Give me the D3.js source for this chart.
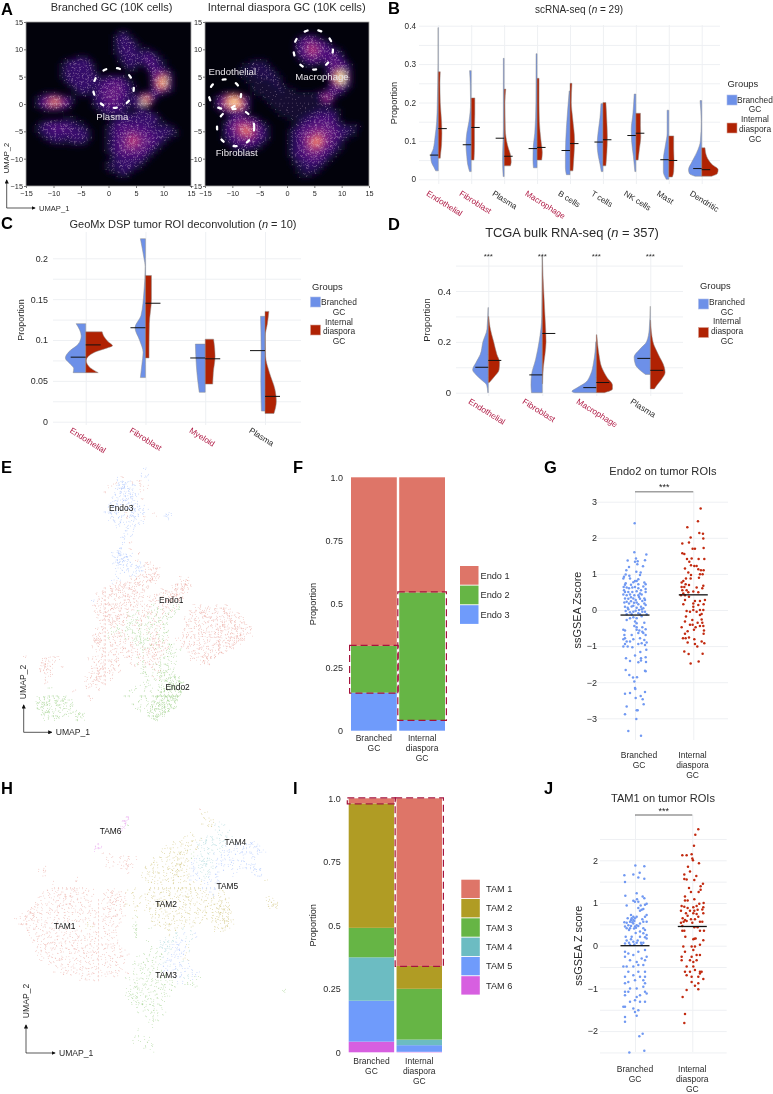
<!DOCTYPE html>
<html>
<head>
<meta charset="utf-8">
<script src="https://cdn.jsdelivr.net/npm/d3@7"></script>
<style>
body { margin: 0; background: #fff; }
svg { will-change: transform; }
text { font-family: "Liberation Sans", Helvetica, Arial, sans-serif; fill: #2a2a2a; }
</style>
</head>
<body>
<div id="fig"></div>
<script>
const GROUP_LABELS = [["Branched", "GC"], ["Internal", "diaspora", "GC"]];
const HILITE = "#b01c46";

// A: density rasters over UMAP space, 0.75 units per cell
const heatBranched = [
"0000000000000000000000000000000000000000",
"0000000000000000000000000000000000000000",
"0000000000000000000000121000000000000000",
"0000000000000000000001232100000000000000",
"0000000000000000000001333210000000000000",
"0000000000000000000001233321000000000000",
"0000000000000000000001233321110000000000",
"0000000000000000000001233332232100000000",
"0000000000001110000000123333343210000000",
"0000000001233332000000123323344321000000",
"0000000012333333100000012321134321000000",
"0000000012333333100000001210024432100000",
"0000000012333333210000000000003554310000",
"0000000012333333321233321000003678410000",
"0000000001333333323444432100002689510000",
"0000000000123333234445543210002688410000",
"0000000000012332234455543200002564310000",
"0000111100001221234555543211343421000000",
"0012456654210000234555443234785100000000",
"0013578875310000233455432235973000000000",
"0012456544200000123444432224310000000000",
"0000111110000000012333321002210000000000",
"0000000000000000001222222233333100000000",
"0000000001110000000011233333333310000000",
"0001233333221100000012333333333211000000",
"0012344444332210000123444444433222210000",
"0012334444433321000123445554443333321000",
"0001233333343331000123455665544333221000",
"0000123332233321000123456776554432100000",
"0000001111122210000123456776554321000000",
"0000000000000000000123456665543210000000",
"0000000000000000000123455555432100000000",
"0000000000000000000012344444321000000000",
"0000000000000000000012333333210000000000",
"0000000000000000000122333322100000000000",
"0000000000000000000122233321000000000000",
"0000000000000000000011232100000000000000",
"0000000000000000000000111000000000000000",
"0000000000000000000000000000000000000000",
"0000000000000000000000000000000000000000"];
const heatInternal = [
"0000000000000000000000000000000000000000",
"0000000000000000000000000000000000000000",
"0000000000000000000000000000000000000000",
"0000000000000000000000012321000000000000",
"0000000000000000000000234543210000000000",
"0000000000000000000000345665432000000000",
"0000000000000000000000345776543110000000",
"0000000000000000000000245675544321000000",
"0000000000000000000000134555444532000000",
"0000000000011110000000012343235443100000",
"0000000001122221000000001211024554310000",
"0000000011222222100000000000013565410000",
"0000000011112222210000000000013689510000",
"0000000001111222211000000000002799610000",
"0000000000111111221000000000002689510000",
"0000000000011111121100000000002564310000",
"0000000000011111112111000000013543100000",
"0000122210001111111111111112455321000000",
"0013578875200011111111111111376200000000",
"0014689986300001111111111111243000000000",
"0013678885200000111111111111111000000000",
"0001345565200000011111111112222110000000",
"0000012331000000001111111223333310000000",
"0000013455432000000011122334444310000000",
"0000124566654210000000123344444321000000",
"0000135677765321000001234455555432222100",
"0000134678875421000012345566655433321000",
"0000134567775431000012345667665543211000",
"0000123455654321000012346778765432100000",
"0000012344443210000012345788765321000000",
"0000001222322100000012345677654321000000",
"0000000111100000000012345666543210000000",
"0000000000000000000012344555432100000000",
"0000000000000000000001233444321000000000",
"0000000000000000000001223333210000000000",
"0000000000000000000000122322100000000000",
"0000000000000000000000112221000000000000",
"0000000000000000000000011100000000000000",
"0000000000000000000000000000000000000000",
"0000000000000000000000000000000000000000"];
const umapTicks = [-15, -10, -5, 0, 5, 10, 15];
// ellipses: UMAP extents [x0, x1, y0, y1]
const circlesBranched = [[-2.8, 4.6, -0.7, 6.6]];
const circlesInternal = [[1.2, 8.4, 6.3, 13.6], [-14.3, -8.4, -0.9, 4.5], [-12.8, -6, -7.7, -0.9]];
const labelsBranched = [["Plasma", 0.7, -2.2]];
const labelsInternal = [["Endothelial", -10, 6], ["Macrophage", 6.4, 5], ["Fibroblast", -9.2, -8.8]];

// B: scRNA-seq half violins, [value, density]
const scCats = ["Endothelial", "Fibroblast", "Plasma", "Macrophage", "B cells", "T cells", "NK cells", "Mast", "Dendritic"];
const scBranched = [
 [[.395,.02],[.3,.02],[.2,.06],[.15,.1],[.11,.2],[.08,.3],[.06,.46],[.045,.42],[.03,.25],[.022,.16]],
 [[.283,.1],[.25,.06],[.2,.04],[.15,.14],[.12,.27],[.09,.32],[.06,.27],[.04,.22],[.02,.1]],
 [[.315,.05],[.2,.05],[.13,.05],[.1,.07],[.05,.1],[.007,.06]],
 [[.327,.06],[.2,.07],[.12,.14],[.08,.24],[.05,.25],[.03,.22]],
 [[.23,.05],[.17,.16],[.1,.26],[.06,.28],[.03,.28],[.012,.22]],
 [[.197,.12],[.16,.18],[.12,.3],[.09,.35],[.06,.28],[.04,.18],[.02,.1]],
 [[.222,.1],[.17,.18],[.13,.28],[.1,.26],[.06,.15],[.02,.06]],
 [[.18,.1],[.12,.1],[.09,.2],[.05,.33],[.02,.33],[0,.15]],
 [[.205,.1],[.15,.03],[.1,.08],[.07,.3],[.045,.6],[.025,.8],[.015,.75],[.008,.4]]];
const scInternal = [
 [[.28,.12],[.25,.1],[.2,.12],[.15,.2],[.12,.22],[.09,.2],[.07,.15],[.055,.12]],
 [[.212,.22],[.17,.22],[.13,.2],[.09,.2],[.05,.17]],
 [[.235,.1],[.2,.05],[.13,.07],[.09,.2],[.06,.4],[.045,.43],[.035,.38]],
 [[.263,.12],[.2,.12],[.15,.14],[.1,.24],[.07,.32],[.05,.28]],
 [[.25,.12],[.2,.08],[.16,.16],[.1,.28],[.06,.24],[.022,.18]],
 [[.2,.18],[.15,.24],[.11,.27],[.07,.24],[.035,.18]],
 [[.172,.28],[.14,.28],[.11,.3],[.08,.22],[.05,.14]],
 [[.113,.3],[.08,.3],[.05,.32],[.02,.3],[.006,.22]],
 [[.082,.2],[.06,.3],[.04,.6],[.025,1],[.015,.95],[.008,.6]]];
const scMedBranched = [.063,.09,.107,.08,.075,.097,.114,.051,.028];
const scMedInternal = [.132,.135,.06,.083,.093,.103,.12,.049,.025];

// C: GeoMx deconvolution
const dspCats = ["Endothelial", "Fibroblast", "Myeloid", "Plasma"];
const dspBranched = [
 [[.12,.32],[.105,.15],[.095,.25],[.085,.58],[.078,.68],[.07,.5],[.065,.4],[.06,.42]],
 [[.224,.17],[.2,.05],[.19,.01],[.16,.05],[.13,.15],[.115,.35],[.1,.2],[.085,.08],[.07,.12],[.054,.17]],
 [[.095,.33],[.07,.3],[.05,.25],[.036,.2]],
 [[.129,.15],[.09,.13],[.05,.14],[.013,.12]]];
const dspInternal = [
 [[.11,.55],[.105,.6],[.098,.75],[.093,.9],[.09,.7],[.085,.3],[.075,.02],[.068,.1],[.06,.42]],
 [[.179,.2],[.15,.2],[.12,.13],[.09,.12],[.078,.12]],
 [[.101,.28],[.08,.33],[.06,.27],[.046,.25]],
 [[.135,.13],[.12,.08],[.105,.01],[.08,.02],[.06,.15],[.04,.33],[.025,.38],[.01,.3]]];
const dspMedBranched = [.079,.115,.078,.087];
const dspMedInternal = [.094,.145,.077,.031];

// D: TCGA bulk
const tcgaCats = ["Endothelial", "Fibroblast", "Macrophage", "Plasma"];
const tcgaBranched = [
 [[.335,.01],[.25,.05],[.2,.2],[.15,.3],[.12,.45],[.09,.58],[.07,.45],[.05,.25],[.03,.06],[0,.02]],
 [[.54,0],[.3,.02],[.2,.12],[.13,.25],[.07,.4],[.03,.42],[0,.4]],
 [[.2,.02],[.12,.1],[.07,.22],[.04,.4],[.02,.7],[.005,.9],[0,.8]],
 [[.34,0],[.25,.04],[.2,.14],[.17,.4],[.14,.6],[.11,.55],[.09,.4],[.072,.18]]];
const tcgaInternal = [
 [[.3,.02],[.26,.06],[.2,.2],[.15,.32],[.12,.42],[.09,.4],[.06,.2],[.04,.04]],
 [[.54,0],[.45,.03],[.3,.1],[.2,.14],[.15,.1],[.1,.04],[.035,.01]],
 [[.228,.02],[.15,.1],[.1,.2],[.06,.4],[.03,.6],[.015,.6],[0,.3]],
 [[.285,.01],[.2,.1],[.15,.3],[.1,.52],[.08,.55],[.05,.4],[.03,.25],[.015,.15]]];
const tcgaMedBranched = [.1,.07,.02,.135];
const tcgaMedInternal = [.127,.233,.04,.088];

// E: endothelial UMAP, stippled cell raster. r/g/b low and R/G/B high density, m mixed
const endoRows = [
"...............................b",
"..............................bb",
"........................br.....b",
".......................rbBbbrrr",
"......................r.bBBbb.rr",
".....................r..bBbBb.r",
".......................bbbBBbb",
".......................bbbBbb.r",
"......................bbBbbbbb",
"......................bBbbbbBbb",
".....................bBbbbbbBbbb",
"......................bbbbrbBbb..r..Bb",
"......................bbbbrbbb.r.....b",
".......................bbbbbbbb",
"........................b.bbb",
"..........................b.b",
"..........................bb",
".........................bb",
".........................b.r",
".........................b",
"........................bb.r",
".......................bBBbb.r",
".......................bBBBb",
".......................bBBbb.rbrr",
"........................bbbbbBbrrrr",
"........................bbbbbbbrrrr",
"........................b..bbrrrrRr",
"........................b..rrrrrRRr.....rr",
".......................brrrrrRrrrr.....rrRr",
".....................rrrRrRRrrrrr.....rrRRr",
"....................rrrRRrrrRrrr...rrrrRRr",
"...................rrrRrrrRrrrr..rrrrRRRr",
"...................rrrrrrrrRrrr.rrrrrRRRr",
"..................brrRrrrrrrrrr.rrrrrrrr",
"..................rrrrrRrrrrrrrrrgmrrrmg...rrrr..rrr",
"..................rrrRrrrrrrrgrrrggmrmmg..rrrRrrrrrRr",
"...................rrRrrRrrmgrrmrgrrmgg...rrrrRrrrrRRrr",
"...................rrrRrRrrgmmrrgmmggg...rrrrrrRrrrrrrrr",
"....................rrRRrrmggmrgrmgmg....rrrrrrrrrRrRrrrr",
"....................rrrrgrggrmggmgrmg....rrrrrrrrrRRrRrrrr",
"...................rrrmgmrgggmgmgrmgg....rrrrrrrrRrrrrRrrr",
"..................rRrrgrrmrggggmmrmgg...rrrrrrrrrrrrRrRRrr",
"..................RRrrmrrrmrmgGgmRmgr..rrrrrrrrrrRrrRRRR",
"..................rRrrrrrrrrgmGgmmRmrg..rrrrrrrrrRrrRRr",
"..................rrrrrrrrrrrgmgmRRmrgg.rrrrrrrrrRrrRr",
"...................rrrrrrrrrrrmrRRmrmgg.g.rrrrrrrRrr",
"....................rrrrrr.rrrmrrRrrggg...rrrrrrrrr",
".r...rrrrr.......rrrrrrrr.rr.mrrrrrgggg...rrrrRRr",
".....rRrr.........rrrrrrr..r.mgrrmrgggg......rRr",
".....rRr..r.......rrRrrrr...r.gmrrgggg",
".....RRr..........rRrrrrr.....gg.mrgGgg",
"......rr.........rrRrrrr......gg.mgGGgg",
"......r.........rrrRrrr........g.gmgGGGg",
"......r.........rrrrrr.........gg..ggGGGG",
".......g........rr.r.........g.gg.ggGGGG",
".............r.....r.......gg..gg.gGGGGGG",
".......ggg.......r........gg..gg.gGGGGGG",
"....ggGggggGg....r............gg..GGGGGG",
"....GGGggGGgg...............gg..gGGGGGG",
"....gGgggGgggg................gggGGGGGG",
"....ggGGgggggg...............gg.GGGGGG",
".....gggGgggg.GG................GGGG",
"......gggg....Gg.................GG"];
const endoLabels = [["Endo3", 25.3, 10], ["Endo1", 37.8, 32.8], ["Endo2", 39.4, 54.6]];

// F
const endoNames = ["Endo 1", "Endo 2", "Endo 3"];
const endoBranched = [.665, .185, .15];
const endoInternal = [.454, .504, .042];

// G, strip points are [jitter, ssGSEA]
const endoTicks = [-3, -2, -1, 0, 1, 2, 3];
const endoStripBranched = [[-1,2.4],[-2,1.6],[34,1.54],[-22,1.37],[3,1.43],[0,1.34],[8,1.35],[30,1.38],[7,1.27],[24,1.21],[-18,1.19],[-26,1.1],[4,1.06],[17,1.04],[15,.97],[-28,.98],[-17,.95],[-33,.92],[-35,.87],[-15,.87],[10,.85],[0,.8],[5,.8],[-28,.74],[-5,.77],[10,.71],[28,.76],[32,.71],[-34,.64],[-25,.62],[-18,.6],[0,.64],[10,.6],[25,.65],[32,.58],[-30,.5],[-20,.5],[-8,.5],[5,.52],[15,.46],[32,.5],[-35,.43],[-25,.41],[-15,.43],[-2,.41],[10,.41],[20,.43],[-30,.32],[-20,.31],[-5,.32],[2,.28],[15,.31],[28,.32],[-32,.21],[-25,.23],[-18,.18],[5,.21],[10,.16],[28,.18],[32,.14],[-30,.09],[-22,.06],[-5,.12],[5,.06],[18,.09],[-28,-.03],[-15,-.06],[-5,-.05],[10,-.09],[22,-.05],[30,-.05],[-25,-.12],[35,-.12],[-12,.7],[-8,.62],[18,.55],[-12,.35],[12,.36],[22,.25],[-12,.24],[-10,.1],[12,0],[-20,.02],[20,.02],[2,-.02],[-30,.7],[-33,.55],[-3,.2],[25,.05],[-10,-.12],[15,-.12],[30,.28],
[-25,-.28],[-15,-.23],[-5,-.2],[5,-.23],[20,-.17],[0,-.32],[5,-.37],[28,-.35],[-2,-.44],[5,-.48],[22,-.48],[-35,-.55],[-30,-.57],[5,-.55],[13,-.57],[22,-.6],[32,-.53],[-32,-.69],[-10,-.69],[10,-.64],[25,-.64],[32,-.69],[-35,-.81],[-30,-.78],[-5,-.81],[15,-.78],[28,-.83],[-25,-.87],[-30,-.94],[-15,-.87],[10,-.94],[20,-.92],[35,-.9],[-35,-1.01],[-22,-1.01],[-8,-1.03],[30,-.97],[34,-1.1],[0,-1.26],[16,-1.16],[18,-1.34],[32,-1.31],[-27,-1.34],[-15,-1.41],[10,-1.45],[18,-1.4],[33,-1.44],[-28,-1.66],[30,-1.68],[32,-1.7],[-17,-1.8],[-6,-1.87],[6,-1.86],[-2,-1.98],[0,-2.16],[1,-2.19],[-30,-2.32],[-15,-2.3],[30,-2.27],[2,-2.44],[17,-2.38],[23,-2.47],[26,-2.61],[-25,-2.67],[5,-2.78],[8,-2.78],[-30,-2.89],[4,-3.02],[-20,-3.35],[18,-3.48]];
const endoStripInternal = [[22,2.81],[14,2.46],[-18,2.29],[18,2.13],[29,2.11],[-8,2.01],[30,1.98],[-13,1.87],[-33,1.84],[-2,1.7],[5,1.7],[31,1.72],[-33,1.57],[-27,1.55],[-19,1.41],[-5,1.43],[16,1.41],[33,1.41],[-12,1.34],[-7,1.24],[3,1.22],[10,1.22],[-25,1.15],[15,1.13],[23,1.1],[31,1.1],[-15,1.04],[-7,.97],[20,.99],[28,.99],[17,.89],[-22,.87],[-8,.87],[-30,.8],[-35,.76],[-23,.71],[-13,.69],[-27,.64],[-35,.64],[10,.62],[30,.67],[27,.6],[-33,.55],[-20,.55],[0,.51],[-30,.46],[-15,.49],[-37,.41],[-25,.41],[15,.49],[-13,.37],[-25,.28],[5,.25],[20,.25],[35,.28],[-30,.16],[0,.18],[15,.14],[31,.16],[-20,-.03],[-10,-.05],[0,0],[10,-.05],[20,0],[0,.09],
[-22,-.18],[30,0],[20,-.14],[25,-.11],[-25,-.32],[-3,-.28],[25,-.26],[27,-.35],[-10,-.41],[-2,-.41],[13,-.35],[20,-.44],[30,-.44],[-35,-.48],[7,-.48],[2,-.55],[32,-.57],[-17,-.59],[-25,-.66],[31,-.66],[-31,-.78],[-23,-.78],[-13,-.76],[3,-.81],[-17,-.9],[25,-.87],[33,-.92],[5,-.94],[12,-1.01],[-27,-1.15],[-14,-1.22],[28,-1.21],[-8,-1.48],[16,-1.43]];
const endoStripMed = [-.14, .42];

// H: macrophage UMAP raster
const tamRows = [
"..............................................r",
"...............................................yy",
"............................P..................yyy",
"...........................PP..................yyy.t",
"...........................Pg...................yyttt",
"...........................p......................tt.t",
"............................................yy.....ttt",
"..........................................yy..ytTTtt.tt",
".....................p..................yyyyyyttTttttttb..bBb",
"....................pP................yyyyyyyytttttttb.bbbbBBb",
"....................p................yyyyyyygyttttttbbbbbBbbbBb",
"......................r.r............yyyyYyyg.ttttbbbbbbbb.bbb",
".......................rr.rrrrr....yyyyyyYyygbttTtbbbbbbbb.bb",
".......................r.rrrRr....yyyyyyyYyybbtTTtbbb.bbbbb",
".......r...............rr.rrRr..yyyyyyyyYYyybbtTttbbbbb.bbbBB",
"......rR....................r....yyyyyyyYYyybbtttttbb.bb...bBB",
".......r....................r...yyyyyyyyYyyybbbttbbb..b.....bB",
"...............r................yyyyyyyyyyyybbbttbbb",
".........r.....r.................yyyyyyyyyyyyyybbbbb...........y",
"..........rrrrrr.r................yyyyyyyyYyyyybbbb",
"........rrrrrrrRrrrr...rrrr.y.y..yyyyyyyyyyyyyyyybbyy",
".......rrrrRrrRrrrrr..rrRrrr.yy.yyyyyyyYyyyyyyyyybyyy",
"......rrrrrrrRrrrrr..rrrRRrrr.yy.yyyyyyyyyyYyyyyyyyyyy.........yyy",
".....rrrrrrrrrRrrrrr.rrrRRrry.yy.yyyYYyyyyyyYyyyyyyyYy.........yyY",
"....rrrrrrrRrrrrrrrr.rrrrrrry.yy.yyyYYyyyyyyyyyyyyyYYY.........yYY",
"...rRrrrrrrrrrrrrrrrrrrrRrrr..y..yyyyyyyyyyyyyyyyyyYYYy",
"..rrRRrrrrrrrrrrrrrrrrrrrRrr..g...yyyyyyyyyyyyyyyyyYYyy",
"rrrRRrrrrrrrrrrrrrrrrrrrrrr...y...yyyyyyyyyyyyyyyyyYYYy",
".rrRrrrrrrrrrrrrrryrrrrrrrr...g...yyyyyyyyyyyyy..yyyYYy",
"..rrrrrrrrrrrrrrr.yyrrrrrrr...G....yyyyyyyy.y.....yyYY",
"...rrrrrrrrrrrrrr..rrrrrrr....G...g...yyy.t.t.....yyy",
"....rrrrrrrrrrrrrrrrrrrrrr....G.......y.ttb.tb",
"....rrRrrrrrrrrrrrrrrrrrrr....g.......tttbbttb",
".....rrrrRrrrrrRrrrRrrrrrr.......g..ttTTbbbt",
".....rrrRrrrrrrrrRrrrrrrrrr.......g.tTTbbBby",
".....rrrrrrrrrrRrrrrRrrrrrrr......g.gtTtbBbt",
"......rrrrrrrrrrrrrrrrrrrrrrr...gg.gggtbbBby",
"......rrrrrRrrrrrrrrrrrrrrrr...g.ggggtbbbbyy",
"........rrrrrrrrrrrrrrrrrrrr..ggggggttbbbbtb",
"..........rrrrrrrrrrrrrrrrr...gggggggbbtbbbb",
"..........rrrrrrrrrrrrrrrrrr..gggggggbbbbtbbb",
"............rrrrrrrRrrrrrrr.r.gggggggggbbbbtbbb",
"................rrr.rr......ggggggggggggbbttbgg",
"..............................gggggggggg.bbggg",
".............................gGgggggggggg..ggg",
"............................gggggggggggg...........................G",
"............................gGGgggggggg",
"............................ggGgggggggg",
".............................gggGggggg",
"..............................gggggggg",
"...............................ggggggg",
".................................ggggg",
"..................................ggg",
"..................................gg",
"..................................g",
"...............................g",
"...............................g",
"..............................g.gg",
"..............................gg.gg",
"................................ggg",
"..................................g"];
const tamLabels = [["TAM6", 24.3, 5.7], ["TAM4", 55.5, 8.3], ["TAM5", 53.5, 19.3], ["TAM2", 38.2, 23.8], ["TAM1", 12.8, 29.3], ["TAM3", 38.2, 41.7]];

// I
const tamNames = ["TAM 1", "TAM 2", "TAM 3", "TAM 4", "TAM 5", "TAM 6"];
const tamBranched = [.02, .49, .116, .171, .161, .042];
const tamInternal = [.66, .09, .2, .022, .026, .002];

// J
const tamTicks = [-2, -1, 0, 1, 2];
const tamStripBranched = [[1,1.88],[28,1.86],[14,1.71],[-5,1.67],[-32,1.65],[10,1.6],[28,1.57],[-30,1.49],[-29,1.17],[5,1.23],[23,1.15],[28,1.11],[6,1.09],[-5,1.05],[0,1.03],[10,1.03],[-25,.94],[17,.94],[35,.98],[30,.96],[25,.86],[10,.88],[15,.82],[20,.84],[35,.72],[30,.68],[22,.62],[-22,.64],[-12,.72],[-5,.68],[5,.68],[-10,.64],[0,.64],[-5,.6],[-32,.55],[-25,.54],[-15,.56],[-20,.48],[-12,.46],[-5,.52],[5,.48],[15,.52],[25,.56],[35,.56],[-30,.45],[-25,.41],[-15,.41],[0,.45],[10,.46],[25,.41],[30,.37],[-18,.37],[15,.33],[2,.3],[25,.29],[35,.25],[-28,.21],[-10,.21],[15,.21],[30,.2],[35,.17],[-30,.05],[-18,.07],[-5,.09],[5,.07],[18,.07],[25,.07],[-3,.4],[3,.42],[-8,.55],[-2,.58],[-12,.6],[-25,.12],[-12,.15],[8,.12],[20,.02],[-15,.02],[-2,.03],
[-30,-.14],[-20,-.18],[-5,-.22],[10,-.14],[30,-.1],[35,-.26],[-30,-.26],[-15,-.34],[5,-.38],[20,-.3],[30,-.34],[-35,-.49],[-25,-.49],[-5,-.49],[10,-.45],[25,-.45],[-20,-.61],[10,-.61],[30,-.61],[-30,-.73],[-5,-.69],[15,-.73],[30,-.73],[0,-.81],[25,-.81],[30,-.88],[-30,-.88],[-20,-.85],[-15,-1],[-30,-1.08],[-20,-1.08],[5,-1],[25,-.96],[35,-1.12],[15,-1.16],[5,-1.2],[30,-1.08],[-30,-1.16],[-15,-1.31],[-30,-1.43],[0,-1.28],[15,-1.31],[30,-1.31],[-35,-1.43],[-5,-1.47],[0,-1.55],[10,-1.51],[5,-1.64],[-30,-1.67],[-30,-1.78],[13,-2.12],[23,-2.06],[-17,-2.5],[28,-2.46]];
const tamStripInternal = [[18,2.73],[9,2.6],[5,2.34],[-30,2.12],[-17,2.12],[-2,2.14],[0,2.04],[2,2],[20,1.93],[-13,1.85],[-7,1.74],[-24,1.67],[12,1.63],[-24,1.56],[-17,1.55],[6,1.54],[32,1.45],[25,1.39],[-10,1.35],[25,1.31],[-4,1.26],[19,1.26],[-22,1.15],[-14,1.06],[-22,1.06],[6,1.09],[21,.98],[34,1],[-32,.93],[-24,.91],[3,.9],[13,.93],[33,.9],[-14,.88],[16,.84],[30,.85],[-34,.82],[-7,.82],[6,.82],[3,.76],[13,.74],[-19,.76],[-14,.7],[33,.76],[18,.68],[-29,.64],[-22,.6],[-4,.62],[8,.62],[-17,.58],[-34,.54],[-26,.56],[23,.56],[30,.56],[0,.54],[-30,.46],[6,.43],[16,.43],[-30,.35],[-24,.35],[23,.35],[35,.35],[-21,.21],[6,.16],[10,.17],[33,.13],[3,.15],
[-27,-.02],[-2,-.02],[8,-.02],[23,.02],[-22,-.14],[3,-.1],[13,-.22],[23,-.22],[-32,-.26],[-2,-.26],[-32,-.34],[-7,-.34],[3,-.38],[13,-.34],[-17,-.49],[3,-.49],[-22,-.61],[-7,-.61],[8,-.57],[23,-.61],[28,-.61],[-17,-.69],[-2,-.73],[18,-.73],[23,-.65],[-2,-.85],[33,-.78],[8,-.94],[18,-.88],[-17,-1.04],[18,-1.02],[-29,-1.2],[-22,-1.6],[-24,-1.81]];
const tamStripMed = [0, .45];

// colours
const BLUE = "#6d90e8", RED = "#b02203";
const GRID = "#eef0f3";
const ENDO_COLORS = ["#de7568", "#66b545", "#6f9bfb"];
const TAM_COLORS = ["#de7568", "#b09c24", "#66b545", "#6cbcc2", "#6f9bfb", "#d75fe0"];
// fixed stipple layout for a raster cell, allowed to spill a bit over the cell edge
const STIPPLE = [[.21,.33],[.74,.62],[.41,.91],[.88,.12],[.07,.71],[.56,.18],[.32,.52],[.97,.86],[.63,.41],[-.08,.04],[.79,.29],[.46,.68],[1.1,.5],[.15,1.08],[.52,-.1],[.27,.03],[.93,.44],[.66,.97],[-.12,.46],[.38,.24],[.84,.78],[.12,.89],[.59,.55],[1.05,.22],[.29,.77],[.7,.09],[.01,.26],[.49,.4],[.9,1.07],[.35,1.12],[.76,.49],[.17,.58],[1.13,.95],[.55,.82],[.02,.93],[.62,.27],[.24,.14]];
// magma position for a raster digit
const HEAT_T = [.02, .09, .14, .19, .24, .3, .37, .5, .76, .98];

const svg = d3.select("#fig").append("svg")
	.attr("width", 773).attr("height", 1094)
	.style("display", "block");

svg.append("defs").append("filter")
	.attr("id", "soft")
	.attr("x", "-10%").attr("y", "-10%").attr("width", "120%").attr("height", "120%")
	.append("feGaussianBlur").attr("stdDeviation", 3);

function addText(g, str, x, y, size, opts) {
	opts = opts || {};
	const t = g.append("text")
		.attr("x", x).attr("y", y)
		.attr("font-size", size)
		.attr("text-anchor", opts.anchor || "middle")
		.text(str);
	if (opts.weight) t.attr("font-weight", opts.weight);
	if (opts.fill) t.style("fill", opts.fill);
	if (opts.rotate) t.attr("transform", "rotate(" + opts.rotate + " " + x + " " + y + ")");
	return t;
}

// title with italic n
function nTitle(x, y, size, before, after) {
	const t = addText(svg, before, x, y, size);
	t.append("tspan").attr("font-style", "italic").text("n");
	t.append("tspan").text(after);
}

function multiLine(g, lines, x, y, size, lineH) {
	lines.forEach((s, i) => addText(g, s, x, y + i * lineH, size));
}

function stippleAt(r, c, i) {
	return STIPPLE[(r * 11 + c * 17 + r * c * 3 + i) % STIPPLE.length];
}

// panel letters
[["A", 1, 15], ["B", 388, 14], ["C", 1, 229], ["D", 388, 230], ["E", 1, 472.5], ["F", 293, 472.5], ["G", 544, 472.5], ["H", 1, 794], ["I", 293, 794], ["J", 544, 794]]
	.forEach(d => addText(svg, d[0], d[1], d[2], 16.5, {anchor: "start", weight: "bold"}).style("fill", "#000"));

// ---------- A ----------
let clipN = 0;
function densityPanel(rows, x0, x1, y0, y1, circles, labels) {
	const g = svg.append("g");
	const x = d3.scaleLinear().domain([-15, 15]).range([x0, x1]);
	const y = d3.scaleLinear().domain([-15, 15]).range([y1, y0]);
	const heat = d => d3.interpolateMagma(HEAT_T[d]);
	const cellsData = [];
	rows.forEach((row, r) => row.split("").forEach((ch, c) => {
		cellsData.push({ux: -15 + c * .75, uy: 15 - r * .75, v: +ch, r: r, c: c});
	}));
	const id = "clip" + (clipN++);
	svg.select("defs").append("clipPath").attr("id", id).append("rect")
		.attr("x", x0).attr("y", y0).attr("width", x1 - x0).attr("height", y1 - y0);

	const inner = g.append("g").attr("clip-path", "url(#" + id + ")");
	inner.append("rect").attr("x", x0).attr("y", y0).attr("width", x1 - x0).attr("height", y1 - y0).attr("fill", heat(0));
	inner.append("g").attr("filter", "url(#soft)")
		.selectAll("rect").data(cellsData.filter(d => d.v > 0)).enter().append("rect")
		.attr("x", d => x(d.ux))
		.attr("y", d => y(d.uy))
		.attr("width", x(.75) - x(0) + .5)
		.attr("height", y(0) - y(.75) + .5)
		.attr("fill", d => heat(d.v));

	// pale stipple where cells are populated
	const dots = [];
	cellsData.filter(d => d.v > 0).forEach(d => {
		const n = d.v === 1 ? 1 : Math.min(d.v + 1, 7);
		for (let i = 0; i < n; i++) {
			const o = stippleAt(d.r, d.c, i * 5);
			dots.push({ux: d.ux + o[0] * .75, uy: d.uy - o[1] * .75});
		}
	});
	inner.append("g").selectAll("circle").data(dots).enter().append("circle")
		.attr("cx", d => x(d.ux)).attr("cy", d => y(d.uy))
		.attr("r", .42).attr("fill", "#f7dfe8").attr("opacity", .62);

	g.append("rect").attr("x", x0).attr("y", y0).attr("width", x1 - x0).attr("height", y1 - y0)
		.attr("fill", "none").attr("stroke", "#a5a5a5").attr("stroke-width", .8);

	const ax = g.append("g").attr("transform", "translate(0," + y1 + ")")
		.call(d3.axisBottom(x).tickValues(umapTicks).tickSize(2).tickPadding(2.6));
	const ay = g.append("g").attr("transform", "translate(" + x0 + ",0)")
		.call(d3.axisLeft(y).tickValues(umapTicks).tickSize(2).tickPadding(1));
	[ax, ay].forEach(a => {
		a.select(".domain").remove();
		a.selectAll("text").attr("font-size", 7.3);
		a.selectAll("line").attr("stroke", "#777");
	});

	g.selectAll(null).data(circles).enter().append("ellipse")
		.attr("cx", d => x((d[0] + d[1]) / 2))
		.attr("cy", d => y((d[2] + d[3]) / 2))
		.attr("rx", d => (x(d[1]) - x(d[0])) / 2)
		.attr("ry", d => (y(d[2]) - y(d[3])) / 2)
		.attr("fill", "none").attr("stroke", "#fff")
		.attr("stroke-width", 2.3).attr("stroke-linecap", "round")
		.attr("stroke-dasharray", "3 11");

	labels.forEach(d => addText(g, d[0], x(d[1]), y(d[2]) + 3.5, 9.6, {fill: "#e9e5ea"}));
}
densityPanel(heatBranched, 26, 191, 22, 186, circlesBranched, labelsBranched);
densityPanel(heatInternal, 205, 369, 22, 186, circlesInternal, labelsInternal);
addText(svg, "Branched GC (10K cells)", 111.5, 11, 11);
addText(svg, "Internal diaspora GC (10K cells)", 286.7, 11, 11.1);

// UMAP arrows
svg.append("defs").append("marker").attr("id", "tip")
	.attr("viewBox", "0 0 6 6").attr("refX", 5).attr("refY", 3)
	.attr("markerWidth", 6).attr("markerHeight", 6).attr("orient", "auto")
	.append("path").attr("d", "M0,0L6,3L0,6Z").attr("fill", "#111");

function umapArrows(ox, oy, topY, rightX, fontSize, labelY2) {
	const line = d3.line();
	svg.append("path").attr("d", line([[ox, oy], [ox, topY]]))
		.attr("stroke", "#111").attr("stroke-width", .7).attr("marker-end", "url(#tip)");
	svg.append("path").attr("d", line([[ox, oy], [rightX, oy]]))
		.attr("stroke", "#111").attr("stroke-width", .7).attr("marker-end", "url(#tip)");
	addText(svg, "UMAP_1", rightX + 4, oy + 3, fontSize, {anchor: "start"});
	addText(svg, "UMAP_2", ox + 2.5, labelY2, fontSize, {rotate: -90});
}
umapArrows(6.7, 208, 180, 35, 7.6, 158);

// ---------- violins ----------
function violinPanel(cfg) {
	const g = svg.append("g");
	const x = d3.scalePoint().domain(cfg.cats).range([cfg.xFirst, cfg.xLast]);
	const y = d3.scaleLinear().domain([0, cfg.yTopValue]).range([cfg.y0, cfg.yTop]);
	const half = d3.scaleLinear().domain([0, 1]).range([0, x.step() / 2]);

	g.append("g").attr("transform", "translate(" + cfg.gridX0 + ",0)")
		.call(d3.axisLeft(y).tickValues(cfg.gridY).tickSize(-(cfg.gridX1 - cfg.gridX0)).tickFormat(""))
		.call(a => a.select(".domain").remove())
		.selectAll("line").attr("stroke", GRID);
	g.append("g").attr("transform", "translate(0," + cfg.gridBottom + ")")
		.call(d3.axisBottom(x).tickSize(-(cfg.gridBottom - cfg.gridTop)).tickFormat(""))
		.call(a => a.select(".domain").remove())
		.selectAll("line").attr("stroke", GRID);

	const yAxis = g.append("g").attr("transform", "translate(" + cfg.tickX + ",0)")
		.call(d3.axisLeft(y).tickValues(cfg.ticks).tickSize(0).tickPadding(0).tickFormat((d, i) => cfg.tickLabels[i]));
	yAxis.select(".domain").remove();
	yAxis.selectAll("text").attr("font-size", cfg.tickSize);

	const xAxis = g.append("g").attr("transform", "translate(0," + cfg.labelY + ")")
		.call(d3.axisBottom(x).tickSize(0));
	xAxis.select(".domain").remove();
	xAxis.selectAll("text")
		.attr("font-size", cfg.catSize)
		.attr("text-anchor", "start")
		.attr("dy", null).attr("y", 0)
		.attr("transform", "translate(" + cfg.labelDx + ",0) rotate(32)")
		.style("fill", d => cfg.hilite.includes(d) ? HILITE : "#2a2a2a");

	const sides = [[cfg.branched, -1, BLUE, cfg.medBranched], [cfg.internal, 1, RED, cfg.medInternal]];
	sides.forEach(s => {
		g.append("g").selectAll("path").data(s[0]).enter().append("path")
			.attr("d", (prof, i) => d3.area()
				.y(d => y(d[0]))
				.x0(x(cfg.cats[i]))
				.x1(d => x(cfg.cats[i]) + s[1] * half(d[1]))
				.curve(d3.curveMonotoneY)(prof))
			.attr("fill", s[2])
			.attr("stroke", "#8d8d8d").attr("stroke-width", .5);
	});
	sides.forEach(s => {
		g.append("g").selectAll("line").data(s[3]).enter().append("line")
			.attr("x1", (d, i) => x(cfg.cats[i]))
			.attr("x2", (d, i) => x(cfg.cats[i]) + s[1] * cfg.medLen)
			.attr("y1", d => y(d)).attr("y2", d => y(d))
			.attr("stroke", "#111").attr("stroke-width", 1);
	});

	addText(g, "Proportion", cfg.yTitleX, cfg.yTitleY, cfg.yTitleSize, {rotate: -90});
	return {x: x, y: y};
}

function groupsLegend(cfg) {
	addText(svg, "Groups", cfg.x, cfg.titleY, cfg.titleSize, {anchor: "start"});
	svg.selectAll(null).data(cfg.keyY).enter().append("rect")
		.attr("x", cfg.keyX).attr("y", d => d)
		.attr("width", 10).attr("height", 10)
		.attr("fill", (d, i) => i ? RED : BLUE)
		.attr("stroke", (d, i) => i ? "#d8a294" : "#aebde8").attr("stroke-width", .6);
	multiLine(svg, GROUP_LABELS[0], cfg.textX, cfg.lineY[0], cfg.size, cfg.lineH);
	multiLine(svg, GROUP_LABELS[1], cfg.textX, cfg.lineY[1], cfg.size, cfg.lineH);
}

// B
violinPanel({cats: scCats, branched: scBranched, internal: scInternal, medBranched: scMedBranched, medInternal: scMedInternal,
	xFirst: 438.3, xLast: 701.7, y0: 179.3, yTop: 25.7, yTopValue: .4,
	gridX0: 419, gridX1: 720, gridTop: 25, gridBottom: 184, gridY: [0, .05, .1, .15, .2, .25, .3, .35, .4],
	tickX: 416, ticks: [0, .1, .2, .3, .4], tickLabels: ["0", "0.1", "0.2", "0.3", "0.4"], tickSize: 8.2,
	labelY: 195, labelDx: -13, catSize: 8.2, hilite: ["Endothelial", "Fibroblast", "Macrophage"], medLen: 8.5,
	yTitleX: 397, yTitleY: 103, yTitleSize: 9.2});
nTitle(579, 12.5, 10, "scRNA-seq (", " = 29)");
groupsLegend({x: 727.5, titleY: 87, titleSize: 9.4, keyX: 727, keyY: [95, 123], textX: 755, lineY: [102.5, 122], lineH: 9.8, size: 8.4});

// C
violinPanel({cats: dspCats, branched: dspBranched, internal: dspInternal, medBranched: dspMedBranched, medInternal: dspMedInternal,
	xFirst: 85.7, xLast: 265, y0: 421.7, yTop: 258.3, yTopValue: .2,
	gridX0: 53, gridX1: 301, gridTop: 232, gridBottom: 425, gridY: [0, .025, .05, .075, .1, .125, .15, .175, .2],
	tickX: 48, ticks: [0, .05, .1, .15, .2], tickLabels: ["0", "0.05", "0.1", "0.15", "0.2"], tickSize: 8.9,
	labelY: 432, labelDx: -17, catSize: 8.2, hilite: ["Endothelial", "Fibroblast", "Myeloid"], medLen: 15,
	yTitleX: 23.5, yTitleY: 320, yTitleSize: 9});
nTitle(183, 227.5, 11, "GeoMx DSP tumor ROI deconvolution (", " = 10)");
groupsLegend({x: 312, titleY: 290, titleSize: 9.4, keyX: 310.5, keyY: [297, 325], textX: 339, lineY: [305, 324.5], lineH: 9.9, size: 8.4});

// D
violinPanel({cats: tcgaCats, branched: tcgaBranched, internal: tcgaInternal, medBranched: tcgaMedBranched, medInternal: tcgaMedInternal,
	xFirst: 488.3, xLast: 650.3, y0: 392.7, yTop: 291, yTopValue: .4,
	gridX0: 456, gridX1: 683, gridTop: 252, gridBottom: 396, gridY: [0, .1, .2, .3, .4, .5],
	tickX: 451, ticks: [0, .2, .4], tickLabels: ["0", "0.2", "0.4"], tickSize: 9.6,
	labelY: 403, labelDx: -21, catSize: 8.4, hilite: ["Endothelial", "Fibroblast", "Macrophage"], medLen: 13,
	yTitleX: 430, yTitleY: 320, yTitleSize: 9.4});
nTitle(572, 236.5, 12.9, "TCGA bulk RNA-seq (", " = 357)");
[488.3, 542.3, 596.3, 650.3].forEach(v => addText(svg, "***", v, 259, 8, {fill: "#333"}));
groupsLegend({x: 700, titleY: 289, titleSize: 9.4, keyX: 698.5, keyY: [299, 327.5], textX: 727, lineY: [305, 324], lineH: 9.9, size: 8.4});

// ---------- stippled UMAPs ----------
function stipplePanel(rows, xr, yr, cols, nrows, codes, labels) {
	const g = svg.append("g");
	const x = d3.scaleLinear().domain([0, cols]).range(xr);
	const y = d3.scaleLinear().domain([0, nrows]).range(yr);
	const dots = [];
	rows.forEach((row, r) => row.split("").forEach((ch, c) => {
		const code = codes[ch];
		if (!code) return;
		code.forEach((item, k) => {
			for (let i = 0; i < item[1]; i++) {
				const o = stippleAt(r, c, k * 7 + i * 5);
				dots.push({cx: c + o[0], cy: r + o[1], col: item[0]});
			}
		});
	}));
	g.selectAll("circle").data(dots).enter().append("circle")
		.attr("cx", d => x(d.cx)).attr("cy", d => y(d.cy))
		.attr("r", .45).attr("fill", d => d.col).attr("opacity", .62);
	labels.forEach(d => addText(g, d[0], x(d[1]), y(d[2]) + 3, 8.4, {fill: "#111"}));
}

// E
const endoCodes = {
	r: [[ENDO_COLORS[0], 3]], R: [[ENDO_COLORS[0], 7]],
	g: [[ENDO_COLORS[1], 3]], G: [[ENDO_COLORS[1], 7]],
	b: [[ENDO_COLORS[2], 3]], B: [[ENDO_COLORS[2], 7]],
	m: [[ENDO_COLORS[0], 2], [ENDO_COLORS[1], 2]]};
stipplePanel(endoRows, [20, 252], [468.3, 724.3], 58, 64, endoCodes, endoLabels);
umapArrows(23.7, 732.3, 705, 51.7, 8.6, 682);

// H
const tamCodes = {
	r: [[TAM_COLORS[0], 2]], R: [[TAM_COLORS[0], 5]],
	y: [[TAM_COLORS[1], 2]], Y: [[TAM_COLORS[1], 5]],
	g: [[TAM_COLORS[2], 2]], G: [[TAM_COLORS[2], 5]],
	t: [[TAM_COLORS[3], 2]], T: [[TAM_COLORS[3], 5]],
	b: [[TAM_COLORS[4], 2]], B: [[TAM_COLORS[4], 5]],
	p: [[TAM_COLORS[5], 3]], P: [[TAM_COLORS[5], 7]]};
stipplePanel(tamRows, [13.3, 281.3], [808.3, 1052.3], 67, 61, tamCodes, tamLabels);
umapArrows(26, 1053, 1025, 55, 8.6, 1001);

// ---------- stacked bars ----------
function stackPanel(cfg) {
	const g = svg.append("g");
	const table = [0, 1].map(i => {
		const row = {group: i};
		cfg.names.forEach((n, k) => { row[n] = cfg.series[i][k]; });
		return row;
	});
	// first name stacks on top
	const stacked = d3.stack().keys(cfg.names.slice().reverse())(table);
	const x = d3.scaleBand().domain([0, 1]).range(cfg.xr).paddingInner(.05);
	const y = d3.scaleLinear().domain([0, 1]).range([cfg.y0, cfg.y1]);

	const yAxis = g.append("g").attr("transform", "translate(" + (cfg.xr[0] - 8) + ",0)")
		.call(d3.axisLeft(y).tickValues([0, .25, .5, .75, 1]).tickSize(0).tickPadding(0)
			.tickFormat((d, i) => ["0", "0.25", "0.5", "0.75", "1.0"][i]));
	yAxis.select(".domain").remove();
	yAxis.selectAll("text").attr("font-size", 9);

	stacked.forEach(s => {
		const col = cfg.colors[cfg.names.indexOf(s.key)];
		g.append("g").selectAll("rect").data(s).enter().append("rect")
			.attr("x", d => x(d.data.group))
			.attr("width", x.bandwidth())
			.attr("y", d => y(d[1]))
			.attr("height", d => y(d[0]) - y(d[1]))
			.attr("fill", col);
	});

	cfg.dashed.forEach(h => {
		const s = stacked.find(t => t.key === h[1])[h[0]];
		g.append("rect")
			.attr("x", x(h[0]) - 1.4).attr("width", x.bandwidth() + 2.8)
			.attr("y", y(s[1]) - .4).attr("height", y(s[0]) - y(s[1]) + .8)
			.attr("fill", "none").attr("stroke", "#a5133c")
			.attr("stroke-width", 1.2).attr("stroke-dasharray", "7 4");
	});

	multiLine(g, GROUP_LABELS[0], x(0) + x.bandwidth() / 2, cfg.labelY, 8.5, 10);
	multiLine(g, GROUP_LABELS[1], x(1) + x.bandwidth() / 2, cfg.labelY, 8.5, 10);
	addText(g, "Proportion", 316, (cfg.y0 + cfg.y1) / 2, 9.2, {rotate: -90});

	const keyH = cfg.keyStep - .9;
	g.selectAll(null).data(cfg.names).enter().append("rect")
		.attr("x", cfg.keyX).attr("y", (d, i) => cfg.keyY + i * cfg.keyStep)
		.attr("width", 18.5).attr("height", keyH)
		.attr("fill", (d, i) => cfg.colors[i]);
	cfg.names.forEach((n, i) => addText(g, n, cfg.keyTextX, cfg.keyY + i * cfg.keyStep + keyH / 2 + 3.2, 9.2, {anchor: "start"}));
}

stackPanel({names: endoNames, series: [endoBranched, endoInternal], colors: ENDO_COLORS,
	xr: [351, 445], y0: 730.7, y1: 477.3, labelY: 741, dashed: [[0, "Endo 2"], [1, "Endo 2"]],
	keyX: 460, keyY: 566, keyStep: 19.6, keyTextX: 480.5});
stackPanel({names: tamNames, series: [tamBranched, tamInternal], colors: TAM_COLORS,
	xr: [348.7, 442], y0: 1052.3, y1: 798.3, labelY: 1064, dashed: [[0, "TAM 1"], [1, "TAM 1"]],
	keyX: 461.3, keyY: 879.7, keyStep: 19.3, keyTextX: 486});

// ---------- strips ----------
function stripPanel(cfg) {
	const g = svg.append("g");
	const x = d3.scalePoint().domain([0, 1]).range(cfg.xr);
	const y = d3.scaleLinear().domain([0, cfg.tickOne]).range([cfg.yZero, cfg.yOne]);
	const jit = d3.scaleLinear().domain([-100, 100]).range([-33.3, 33.3]);

	g.append("g").attr("transform", "translate(" + cfg.gridX[0] + ",0)")
		.call(d3.axisLeft(y).tickValues(cfg.gridY).tickSize(-(cfg.gridX[1] - cfg.gridX[0])).tickFormat(""))
		.call(a => a.select(".domain").remove())
		.selectAll("line").attr("stroke", GRID);
	g.append("g").attr("transform", "translate(0," + cfg.gridBottom + ")")
		.call(d3.axisBottom(x).tickSize(-(cfg.gridBottom - cfg.gridTop)).tickFormat(""))
		.call(a => a.select(".domain").remove())
		.selectAll("line").attr("stroke", GRID);

	const yAxis = g.append("g").attr("transform", "translate(" + cfg.tickX + ",0)")
		.call(d3.axisLeft(y).tickValues(cfg.ticks).tickSize(0).tickPadding(0).tickFormat(d3.format("d")));
	yAxis.select(".domain").remove();
	yAxis.selectAll("text").attr("font-size", 9);

	[[cfg.branched, 0, "#7199f2"], [cfg.internal, 1, "#c22a10"]].forEach(s => {
		g.append("g").selectAll("circle").data(s[0]).enter().append("circle")
			.attr("cx", d => x(s[1]) + jit(d[0]))
			.attr("cy", d => y(d[1]))
			.attr("r", 1.25).attr("fill", s[2]);
	});
	g.append("g").selectAll("line").data(cfg.med).enter().append("line")
		.attr("x1", (d, i) => x(i) - 14.5).attr("x2", (d, i) => x(i) + 14.5)
		.attr("y1", d => y(d)).attr("y2", d => y(d))
		.attr("stroke", "#111").attr("stroke-width", 1.3);

	g.append("line").attr("x1", x(0)).attr("x2", x(1))
		.attr("y1", cfg.barY).attr("y2", cfg.barY)
		.attr("stroke", cfg.barCol).attr("stroke-width", cfg.barW);
	addText(g, "***", (x(0) + x(1)) / 2, cfg.barY - 1.5, 9, {fill: "#222"});
	addText(g, cfg.title, 663, cfg.titleY, 11.1);
	addText(g, cfg.yTitle, cfg.yTitleX, cfg.yZero, 10.9, {rotate: -90});
	multiLine(g, GROUP_LABELS[0], cfg.labelX[0], cfg.labelY, 8.5, 10);
	multiLine(g, GROUP_LABELS[1], cfg.labelX[1], cfg.labelY, 8.5, 10);
}

stripPanel({branched: endoStripBranched, internal: endoStripInternal, med: endoStripMed,
	xr: [635, 693.3], tickOne: 3, yZero: 610, yOne: 501.7, gridX: [593, 728], gridTop: 492, gridBottom: 740,
	gridY: endoTicks, ticks: endoTicks, tickX: 597,
	barY: 491.7, barCol: "#a0a0a0", barW: 1.4, title: "Endo2 on tumor ROIs", titleY: 475,
	yTitle: "ssGSEA Zscore", yTitleX: 581, labelX: [639, 692.5], labelY: 758});
stripPanel({branched: tamStripBranched, internal: tamStripInternal, med: tamStripMed,
	xr: [635, 692.3], tickOne: 2, yZero: 945.7, yOne: 860.3, gridX: [600, 726.7], gridTop: 815, gridBottom: 1052,
	gridY: [-2.5, -2, -1.5, -1, -.5, 0, .5, 1, 1.5, 2, 2.5], ticks: tamTicks, tickX: 598,
	barY: 815, barCol: "#222", barW: .7, title: "TAM1 on tumor ROIs", titleY: 801.5,
	yTitle: "ssGSEA Z score", yTitleX: 582, labelX: [635, 692.3], labelY: 1072});
</script>
</body>
</html>
